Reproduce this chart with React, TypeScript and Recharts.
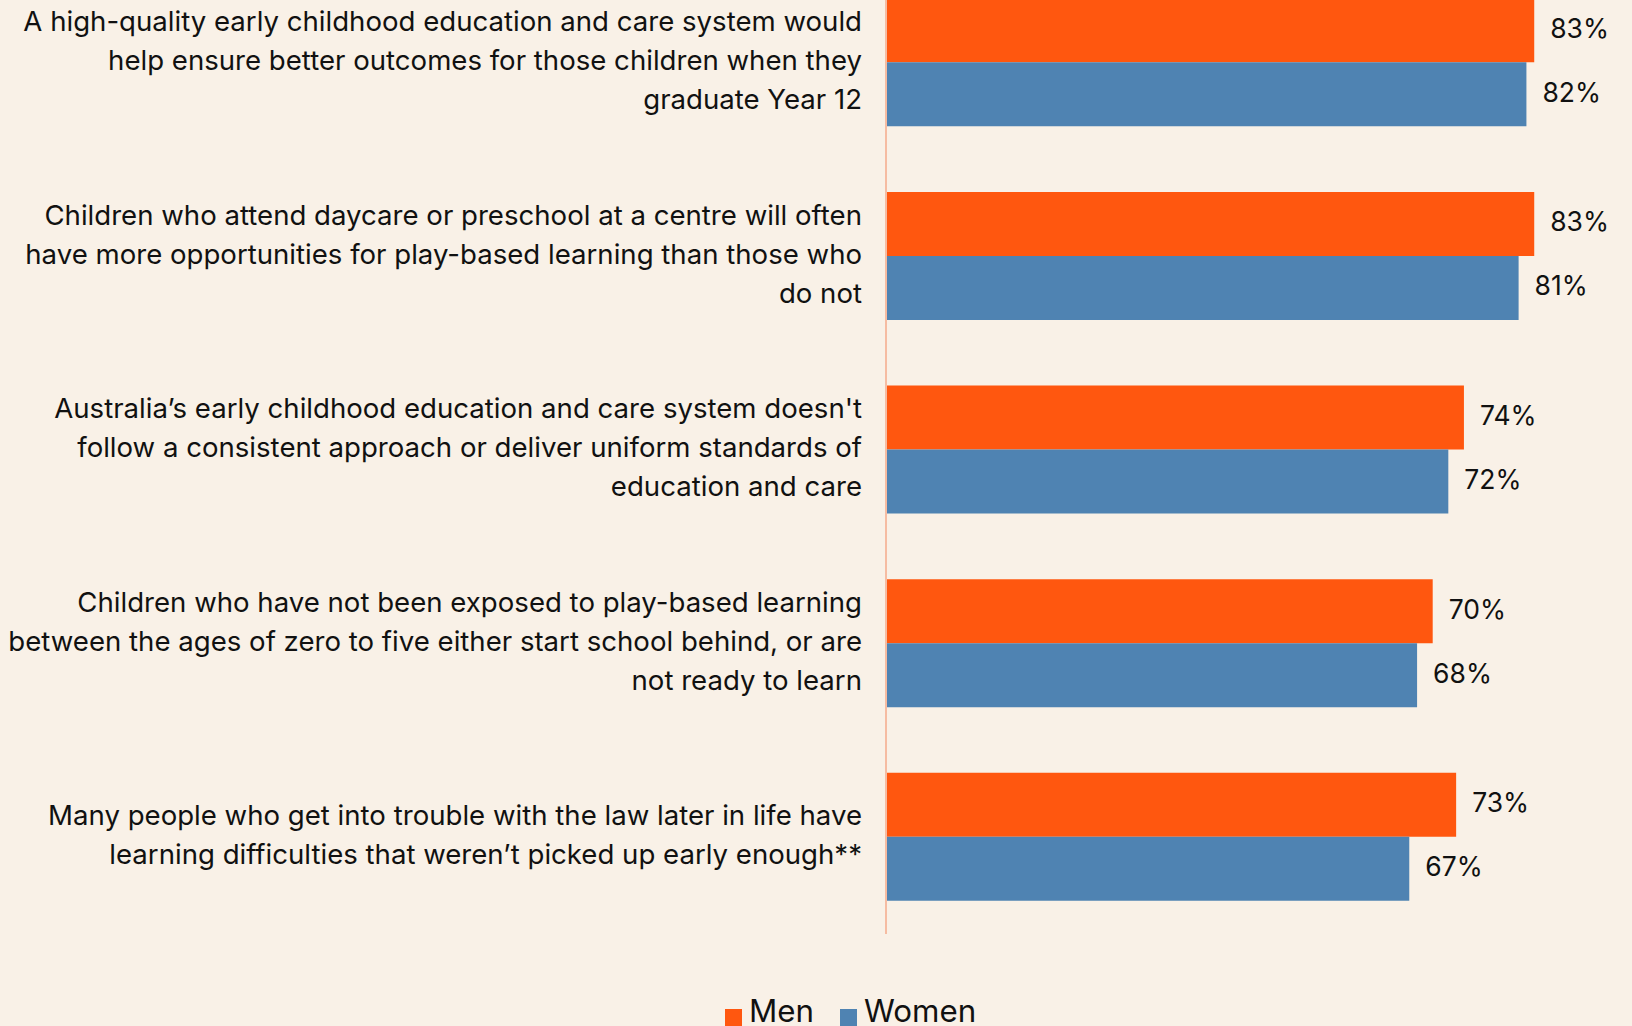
import React from 'react';
import { BarChart, Bar, XAxis, YAxis, LabelList, Legend } from 'recharts';

const categories = [
  "A high-quality early childhood education and care system would\nhelp ensure better outcomes for those children when they\ngraduate Year 12",
  "Children who attend daycare or preschool at a centre will often\nhave more opportunities for play-based learning than those who\ndo not",
  "Australia’s early childhood education and care system doesn't\nfollow a consistent approach or deliver uniform standards of\neducation and care",
  "Children who have not been exposed to play-based learning\nbetween the ages of zero to five either start school behind, or are\nnot ready to learn",
  "Many people who get into trouble with the law later in life have\nlearning difficulties that weren’t picked up early enough**",
];
const menValues = [83, 83, 74, 70, 73];
const womenValues = [82, 81, 72, 68, 67];
const seriesNames = ['Men', 'Women'];
const seriesColors = ['#FF570F', '#4F83B2'];

const data = categories.map((c, i) => ({ category: c, men: menValues[i], women: womenValues[i] }));

const FONT = 'Inter, "Liberation Sans", Arial, sans-serif';
const TEXT = '#111111';

const CategoryTick = (props: any) => {
  const { x, y, payload } = props;
  const lines: string[] = String(payload.value).split('\n');
  const lh = 39;
  return (
    <text x={x} y={y} textAnchor="end" fontFamily={FONT} fontSize={27.6} fill={TEXT}>
      {lines.map((l, i) => (
        <tspan key={i} x={x} y={y + (i - (lines.length - 1) / 2) * lh} dy="0.26em">
          {l}
        </tspan>
      ))}
    </text>
  );
};

const LegendContent = () => (
  <div
    style={{
      height: 100,
      boxSizing: 'border-box',
      paddingTop: 62,
      paddingLeft: 725,
      display: 'flex',
      fontFamily: FONT,
      fontSize: 31.3,
      lineHeight: '31px',
      color: TEXT,
    }}
  >
    {seriesNames.map((n, i) => (
      <div key={n} style={{ display: 'flex', alignItems: 'flex-start', marginRight: 26 }}>
        <div style={{ width: 17, height: 17, background: seriesColors[i], marginTop: 13, marginRight: 7 }} />
        <span>{n}</span>
      </div>
    ))}
  </div>
);

export default function App() {
  return (
    <div
      style={{
        position: 'absolute',
        left: 0,
        top: 0,
        width: 1632,
        height: 1026,
        overflow: 'hidden',
        background: '#F9F1E7',
      }}
    >
      <div style={{ position: 'absolute', left: 0, top: -34 }}>
        <BarChart
          width={1667}
          height={1068}
          data={data}
          layout="vertical"
          margin={{ top: 0, right: 0, bottom: 0, left: 0 }}
          barCategoryGap="16.7%"
          barGap={0}
        >
          <XAxis type="number" domain={[0, 100]} hide />
          <YAxis
            type="category"
            dataKey="category"
            width={886}
            tickLine={false}
            tickSize={0}
            tickMargin={24}
            axisLine={{ stroke: '#F6BCA2', strokeWidth: 2 }}
            tick={<CategoryTick />}
            interval={0}
          />
          <Legend verticalAlign="bottom" height={100} content={<LegendContent />} />
          <Bar dataKey="men" name="Men" fill={seriesColors[0]} isAnimationActive={false}>
            <LabelList
              dataKey="men"
              position="right"
              offset={16}
              dy={-2}
              formatter={(v: any) => `${v}%`}
              style={{ fontFamily: FONT, fontSize: 26.5, fill: TEXT }}
            />
          </Bar>
          <Bar dataKey="women" name="Women" fill={seriesColors[1]} isAnimationActive={false}>
            <LabelList
              dataKey="women"
              position="right"
              offset={16}
              dy={-2}
              formatter={(v: any) => `${v}%`}
              style={{ fontFamily: FONT, fontSize: 26.5, fill: TEXT }}
            />
          </Bar>
        </BarChart>
      </div>
    </div>
  );
}
